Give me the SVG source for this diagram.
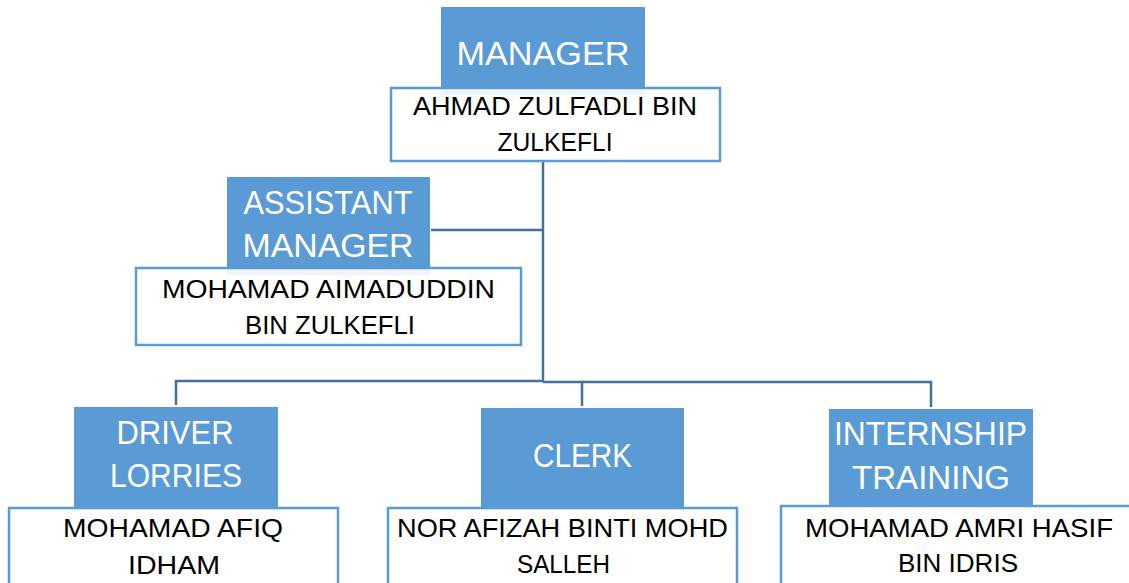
<svg xmlns="http://www.w3.org/2000/svg" width="1129" height="583" viewBox="0 0 1129 583">
<style>
.title{fill:#5b9bd5}
.name{fill:#ffffff;fill-opacity:0.9;stroke:#5b9bd5;stroke-width:2.5}
.tt{font-family:"Liberation Sans",Arial,sans-serif;font-size:34px;fill:#ffffff;text-anchor:middle}
.nt{font-family:"Liberation Sans",Arial,sans-serif;font-size:25px;fill:#000000;text-anchor:middle}
.conn{fill:none;stroke:#41719c;stroke-width:2.5}
</style>
<rect width="1129" height="583" fill="#ffffff"/>
<g id="connectors" class="conn">
<path d="M543 161 V381"/>
<path d="M431 230 H543"/>
<path d="M176 405 V381 H543"/>
<path d="M543 382 H582 V406"/>
<path d="M582 382 H931 V407"/>
</g>
<g id="manager">
<rect class="title" x="441" y="7" width="204" height="88"/>
<text class="tt" x="543" y="65" textLength="173" lengthAdjust="spacingAndGlyphs">MANAGER</text>
<rect class="name" x="391" y="88" width="329" height="73"/>
<text class="nt" x="555" y="115" textLength="284" lengthAdjust="spacingAndGlyphs">AHMAD ZULFADLI BIN</text>
<text class="nt" x="555" y="151" textLength="115" lengthAdjust="spacingAndGlyphs">ZULKEFLI</text>
</g>
<g id="assistant-manager">
<rect class="title" x="227" y="177" width="203" height="98"/>
<text class="tt" x="328" y="214" textLength="169" lengthAdjust="spacingAndGlyphs">ASSISTANT</text>
<text class="tt" x="328" y="257" textLength="171" lengthAdjust="spacingAndGlyphs">MANAGER</text>
<rect class="name" x="136" y="268" width="385" height="77"/>
<text class="nt" x="328.5" y="298" textLength="333" lengthAdjust="spacingAndGlyphs">MOHAMAD AIMADUDDIN</text>
<text class="nt" x="330" y="334" textLength="170" lengthAdjust="spacingAndGlyphs">BIN ZULKEFLI</text>
</g>
<g id="driver-lorries">
<rect class="title" x="74" y="407" width="204" height="103"/>
<text class="tt" x="175" y="444" textLength="117" lengthAdjust="spacingAndGlyphs">DRIVER</text>
<text class="tt" x="176" y="487" textLength="132" lengthAdjust="spacingAndGlyphs">LORRIES</text>
<rect class="name" x="9" y="508" width="329" height="90"/>
<text class="nt" x="173" y="537" textLength="220" lengthAdjust="spacingAndGlyphs">MOHAMAD AFIQ</text>
<text class="nt" x="174" y="574" textLength="92" lengthAdjust="spacingAndGlyphs">IDHAM</text>
</g>
<g id="clerk">
<rect class="title" x="481" y="408" width="203" height="102"/>
<text class="tt" x="582.5" y="467" textLength="99" lengthAdjust="spacingAndGlyphs">CLERK</text>
<rect class="name" x="388" y="508" width="349" height="90"/>
<text class="nt" x="562.5" y="537" textLength="331" lengthAdjust="spacingAndGlyphs">NOR AFIZAH BINTI MOHD</text>
<text class="nt" x="563.5" y="573" textLength="93" lengthAdjust="spacingAndGlyphs">SALLEH</text>
</g>
<g id="internship-training">
<rect class="title" x="829" y="409" width="204" height="98"/>
<text class="tt" x="930.5" y="445" textLength="193" lengthAdjust="spacingAndGlyphs">INTERNSHIP</text>
<text class="tt" x="931" y="489" textLength="158" lengthAdjust="spacingAndGlyphs">TRAINING</text>
<rect class="name" x="781" y="506" width="360" height="92"/>
<text class="nt" x="959" y="537" textLength="308" lengthAdjust="spacingAndGlyphs">MOHAMAD AMRI HASIF</text>
<text class="nt" x="958" y="572" textLength="120" lengthAdjust="spacingAndGlyphs">BIN IDRIS</text>
</g>
</svg>
